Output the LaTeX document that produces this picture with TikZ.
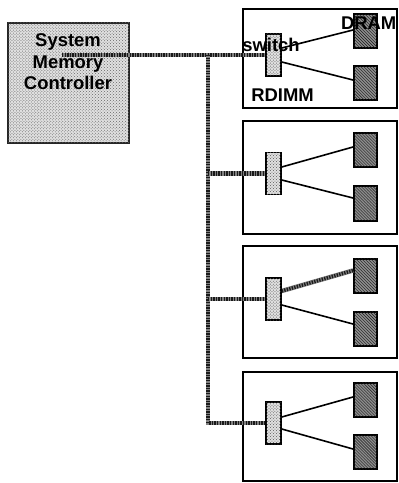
\documentclass[tikz,border=0pt]{standalone}
\usepackage{fontspec}
\setmainfont{Liberation Sans}
\usetikzlibrary{patterns}
\begin{document}
\begin{tikzpicture}[x=1bp,y=-1bp,
  lbl/.style={font=\fontsize{18.5}{22}\selectfont\bfseries, inner sep=0pt},
  ctrlbox/.style={draw=black!85, line width=2bp, fill=black!12,
    postaction={pattern=crosshatch dots, pattern color=black!60},
    minimum width=121bp, minimum height=120bp, inner sep=0pt},
  dimm/.style={draw=black, line width=1.5bp, fill=white, minimum width=154bp, inner sep=0pt},
  swbox/.style={draw=black, line width=1.5bp, fill=black!12,
    postaction={pattern=crosshatch dots, pattern color=black!65},
    minimum width=15bp, minimum height=42bp, inner sep=0pt},
  dram/.style={draw=black, line width=2bp, fill=black!45,
    postaction={pattern=north west lines, pattern color=black!90},
    minimum width=23bp, minimum height=34bp, inner sep=0pt},
  bus/.style={draw=black!90, line width=4.5bp, line join=miter, dash pattern=on 1.3bp off 1.3bp,
    preaction={draw=black!50, line width=4.5bp, solid}},
  wire/.style={draw=black, line width=1.6bp}
]
\useasboundingbox (0,0) rectangle (398,483);

% controller
\node[ctrlbox] (ctrl) at (68.5,83) {};

% RDIMM boxes
\node[dimm, minimum height=99bp] (b1) at (320,58.5) {};
\node[dimm, minimum height=113bp] (b2) at (320,177.5) {};
\node[dimm, minimum height=112bp] (b3) at (320,302) {};
\node[dimm, minimum height=109bp] (b4) at (320,426.5) {};

% switches
\node[swbox] (sw1) at (273.5,55) {};
\node[swbox] (sw2) at (273.5,173.5) {};
\node[swbox] (sw3) at (273.5,299) {};
\node[swbox] (sw4) at (273.5,423) {};

% DRAMs
\node[dram] (d11) at (365.5,31.5) {};
\node[dram] (d12) at (365.5,83.5) {};
\node[dram] (d21) at (365.5,150) {};
\node[dram] (d22) at (365.5,203.5) {};
\node[dram] (d31) at (365.5,275.5) {};
\node[dram] (d32) at (365.5,328.5) {};
\node[dram] (d41) at (365.5,399.5) {};
\node[dram] (d42) at (365.5,452) {};

% bus
\coordinate (busstart) at (62,55);
\coordinate (jt) at (208,55);
\coordinate (jb) at (208,423);
\draw[bus] (busstart) -- (sw1.west);
\draw[bus] (jt) -- (jb) -- (sw4.west);
\draw[bus] (sw2.west -| jt) -- (sw2.west);
\draw[bus] (sw3.west -| jt) -- (sw3.west);

% switch to DRAM wires
\draw[wire] ([yshift=7bp]sw1.east) -- ([yshift=1.5bp]d11.west);
\draw[wire] ([yshift=-7bp]sw1.east) -- ([yshift=3.5bp]d12.west);
\draw[wire] ([yshift=6.5bp]sw2.east) -- ([yshift=3bp]d21.west);
\draw[wire] ([yshift=-6.5bp]sw2.east) -- ([yshift=5.5bp]d22.west);
\draw[bus, line width=3.5bp, preaction={draw=black!50, line width=3.5bp, solid}] ([yshift=8bp]sw3.east) -- ([yshift=5bp]d31.west);
\draw[wire] ([yshift=-6bp]sw3.east) -- ([yshift=4.5bp]d32.west);
\draw[wire] ([yshift=6bp]sw4.east) -- ([yshift=2.5bp]d41.west);
\draw[wire] ([yshift=-6bp]sw4.east) -- ([yshift=3bp]d42.west);

% redraw switches on top of wires
\node[swbox] at (sw1) {};
\node[swbox] at (sw2) {};
\node[swbox] at (sw3) {};
\node[swbox] at (sw4) {};

% labels
\node[lbl, anchor=base] (tsys) at (68,47) {System};
\node[lbl, anchor=base] (tmem) at (68,68.5) {Memory};
\node[lbl, anchor=base] (tcon) at (68,90) {Controller};
\node[lbl, anchor=base] (tsw) at (271,52) {switch};
\node[lbl, anchor=base] (trd) at (282.5,102) {RDIMM};
\node[lbl, anchor=base east] (tdr) at (396.5,30) {DRAM};
\end{tikzpicture}
\end{document}
